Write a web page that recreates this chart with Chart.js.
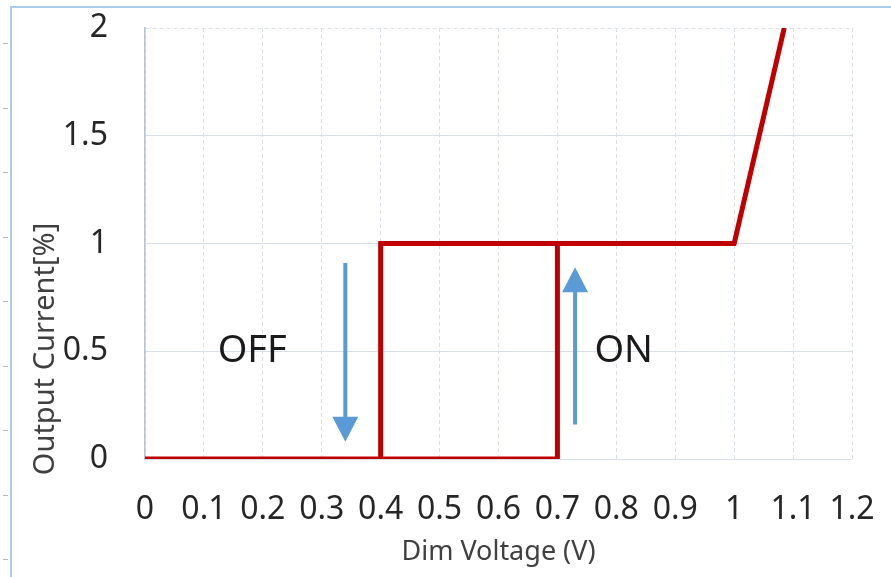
<!DOCTYPE html>
<html>
<head>
<meta charset="utf-8">
<script src="https://cdn.jsdelivr.net/npm/chart.js@4.4.1/dist/chart.umd.min.js"></script>
<style>
    html, body { margin: 0; padding: 0; background: #fff; }
    #wrap { width: 891px; height: 577px; }
</style>
</head>
<body>
<div id="wrap"><canvas id="dimChart" width="891" height="577"></canvas></div>
<script>
// hysteresis of output current vs dim voltage
const offCurveX = [0, 0.4, 0.4, 1, 1.085];
const offCurveY = [0, 0, 1, 1, 2];
const onCurveX = [0.4, 0.7, 0.7];
const onCurveY = [0, 0, 1];

const xTickLabels = ['0', '0.1', '0.2', '0.3', '0.4', '0.5', '0.6', '0.7', '0.8', '0.9', '1', '1.1', '1.2'];
const yTickLabels = ['0', '0.5', '1', '1.5', '2'];

// arrows: [x, y start, y tip]
const offArrow = [0.34, 0.91, 0.08];
const onArrow = [0.73, 0.16, 0.89];

const noteText = ['OFF', 'ON'];
const noteX = [0.182, 0.8125];
const noteY = [0.5, 0.5];

const xTitle = 'Dim Voltage (V)';
const yTitle = 'Output Current[%]';

const RED = '#c00000';
const BLUE = '#5b9bd5';
const GRID = '#d8dfe9';
const FONT = "'Noto Sans', sans-serif";

function toPoints(xs, ys) {
    return xs.map((x, i) => ({ x: x, y: ys[i] }));
}

// light blue frame + ruler ticks on the left edge
const framePlugin = {
    id: 'frame',
    beforeDraw(chart) {
        const ctx = chart.ctx;
        ctx.save();
        ctx.strokeStyle = '#a9cbea';
        ctx.lineWidth = 2;
        ctx.beginPath();
        ctx.moveTo(891, 7);
        ctx.lineTo(11, 7);
        ctx.lineTo(11, 577);
        ctx.stroke();
        ctx.strokeStyle = '#b8b8b8';
        ctx.lineWidth = 1;
        for (let y = 43; y < 577; y += 64.5) {
            ctx.beginPath();
            ctx.moveTo(3, Math.round(y) + 0.5);
            ctx.lineTo(8, Math.round(y) + 0.5);
            ctx.stroke();
        }
        ctx.restore();
    }
};

function drawArrow(ctx, x, y1, y2) {
    const dir = y2 > y1 ? 1 : -1;
    const head = 25, half = 13;
    ctx.beginPath();
    ctx.moveTo(x, y1);
    ctx.lineTo(x, y2 - dir * head + dir * 2);
    ctx.stroke();
    ctx.beginPath();
    ctx.moveTo(x, y2);
    ctx.lineTo(x - half, y2 - dir * head);
    ctx.lineTo(x + half, y2 - dir * head);
    ctx.closePath();
    ctx.fill();
}

const notesPlugin = {
    id: 'notes',
    afterDatasetsDraw(chart) {
        const ctx = chart.ctx;
        const xs = chart.scales.x, ys = chart.scales.y;
        ctx.save();
        ctx.strokeStyle = BLUE;
        ctx.fillStyle = BLUE;
        ctx.lineWidth = 4;
        [offArrow, onArrow].forEach(a => {
            drawArrow(ctx, xs.getPixelForValue(a[0]), ys.getPixelForValue(a[1]), ys.getPixelForValue(a[2]));
        });
        ctx.fillStyle = '#1a1a1a';
        ctx.font = '38px ' + FONT;
        ctx.textAlign = 'center';
        ctx.textBaseline = 'middle';
        noteText.forEach((t, i) => {
            ctx.fillText(t, xs.getPixelForValue(noteX[i]), ys.getPixelForValue(noteY[i]));
        });
        // y axis title, sits lower than the plot centre like the original
        const area = chart.chartArea;
        ctx.fillStyle = '#404040';
        ctx.font = '29px ' + FONT;
        ctx.translate(46, area.bottom - 110);
        ctx.rotate(-Math.PI / 2);
        ctx.fillText(yTitle, 0, 0);
        ctx.restore();
    }
};

new Chart(document.getElementById('dimChart'), {
    type: 'line',
    data: {
        datasets: [{
            label: 'off',
            data: toPoints(offCurveX, offCurveY),
            borderColor: RED,
            borderWidth: 5,
            borderJoinStyle: 'miter',
            pointRadius: 0,
            fill: false
        }, {
            label: 'on',
            data: toPoints(onCurveX, onCurveY),
            borderColor: RED,
            borderWidth: 5,
            borderJoinStyle: 'miter',
            pointRadius: 0,
            fill: false
        }]
    },
    options: {
        responsive: false,
        animation: false,
        devicePixelRatio: 1,
        layout: { padding: { top: 28, right: 39, left: 0, bottom: 0 } },
        plugins: {
            legend: { display: false },
            tooltip: { enabled: false }
        },
        scales: {
            x: {
                type: 'linear',
                min: 0,
                max: 1.2,
                afterFit: function (scale) {
                    scale.height = 118;
                    scale.paddingLeft = 0;
                    scale.paddingRight = 0;
                },
                afterBuildTicks: function (scale) {
                    scale.ticks = xTickLabels.map(t => ({ value: parseFloat(t) }));
                },
                ticks: {
                    autoSkip: false,
                    maxRotation: 0,
                    padding: 32,
                    color: '#262626',
                    font: { family: FONT, size: 32 },
                    callback: function (value, index) { return xTickLabels[index]; }
                },
                grid: {
                    color: GRID,
                    drawTicks: false
                },
                // dashes on the vertical grid lines
                border: { display: false, dash: [4, 3] },
                title: {
                    display: true,
                    text: xTitle,
                    color: '#404040',
                    font: { family: FONT, size: 27 },
                    padding: { top: 0, bottom: 8 }
                }
            },
            y: {
                type: 'linear',
                min: 0,
                max: 2,
                afterFit: function (scale) {
                    scale.width = 145;
                    scale.paddingTop = 0;
                    scale.paddingBottom = 0;
                },
                afterBuildTicks: function (scale) {
                    scale.ticks = yTickLabels.map(t => ({ value: parseFloat(t) }));
                },
                ticks: {
                    padding: 37,
                    color: '#262626',
                    font: { family: FONT, size: 32 },
                    callback: function (value, index) { return yTickLabels[index]; }
                },
                grid: {
                    color: GRID,
                    drawTicks: false
                },
                border: {
                    display: true,
                    color: '#b7c2d6',
                    width: 1.5,
                    dash: function (c) { return c.tick && c.tick.value === 2 ? [4, 3] : []; }
                }
            }
        }
    },
    plugins: [framePlugin, notesPlugin]
});
</script>
</body>
</html>
